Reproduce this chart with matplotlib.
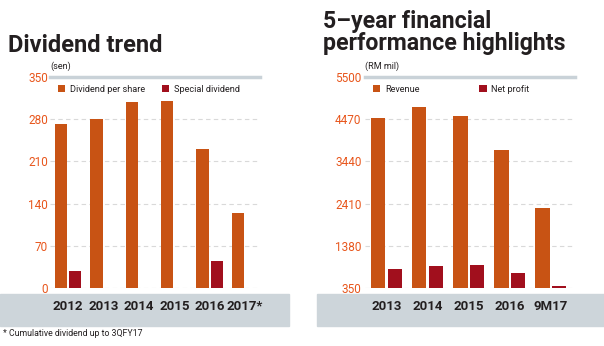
import numpy as np
import matplotlib.pyplot as plt
from matplotlib.patches import Rectangle

plt.rcParams['font.family'] = ['Roboto', 'DejaVu Sans']

# left chart data
div_years = ['2012', '2013', '2014', '2015', '2016', '2017*']
div_per_share = [272, 281, 309, 311, 231, 125]
special_div = [28, 0, 0, 0, 45, 0]
div_ticks = [0, 70, 140, 210, 280, 350]

# right chart data
fin_years = ['2013', '2014', '2015', '2016', '9M17']
revenue = [4490, 4760, 4550, 3730, 2300]
net_profit = [810, 890, 910, 715, 400]
fin_ticks = [350, 1380, 2410, 3440, 4470, 5500]

ORANGE = '#c85314'
RED = '#a10f1d'
TICK = '#e8561c'
GRAY = '#cdd5da'
DARK = '#231f20'

W, H = 604, 346
fig = plt.figure(figsize=(W / 100, H / 100), dpi=100)

def px_axes(x0, x1, ytop, ybot):
    return fig.add_axes([x0 / W, (H - ybot) / H, (x1 - x0) / W, (ybot - ytop) / H])

# grey bands behind the x labels
fig.patches.append(Rectangle((0, (H - 326) / H), 289 / W, 32 / H,
                             transform=fig.transFigure, color=GRAY, zorder=-5))
fig.patches.append(Rectangle((317 / W, (H - 326) / H), (W - 317) / W, 32 / H,
                             transform=fig.transFigure, color=GRAY, zorder=-5))

def style(ax, ticks, cats, unit, lbl_pad):
    ax.set_ylim(ticks[0], ticks[-1])
    ax.set_yticks(ticks)
    ax.set_yticklabels([str(t) for t in ticks], color=TICK, fontsize=8.5)
    ax.tick_params(axis='y', length=0, pad=lbl_pad)
    ax.set_xticks(range(len(cats)))
    ax.set_xticklabels(cats, fontsize=9.5, fontweight='bold', color=DARK)
    ax.tick_params(axis='x', length=0, pad=9)
    for s in ['left', 'right', 'bottom']:
        ax.spines[s].set_visible(False)
    ax.spines['top'].set_color('#c9d2d8')
    ax.spines['top'].set_linewidth(2.5)
    for t in ticks[:-1]:
        ax.axhline(t, color='#d9d9d9', lw=0.8, ls=(0, (4, 3)), zorder=0)
    ax.set_facecolor('none')
    ax.text(0, 1.03, unit, transform=ax.transAxes, fontsize=6.5, color=DARK,
            va='bottom', ha='left')

# left chart
ax1 = px_axes(50, 260, 77, 288)
x = np.arange(len(div_years))
ax1.bar(x - 0.2, div_per_share, width=0.35, color=ORANGE, label='Dividend per share', zorder=2)
ax1.bar(x + 0.2, special_div, width=0.34, color=RED, label='Special dividend', zorder=2)
ax1.set_xlim(-0.51, 5.42)
style(ax1, div_ticks, div_years, '(sen)', 1.5)
ax1.legend(loc='upper left', bbox_to_anchor=(0.01, 0.99), ncol=2, frameon=False,
           fontsize=6.6, handlelength=0.85, handleheight=0.85, handletextpad=0.5,
           columnspacing=1.8, borderaxespad=0.2, labelcolor=DARK)

# right chart
ax2 = px_axes(365, 575, 77, 288)
x = np.arange(len(fin_years))
ax2.bar(x - 0.2, np.array(revenue) - fin_ticks[0], bottom=fin_ticks[0], width=0.35,
        color=ORANGE, label='Revenue', zorder=2)
ax2.bar(x + 0.2, np.array(net_profit) - fin_ticks[0], bottom=fin_ticks[0], width=0.34,
        color=RED, label='Net profit', zorder=2)
ax2.set_xlim(-0.52, 4.59)
style(ax2, fin_ticks, fin_years, '(RM mil)', 2.5)
ax2.legend(loc='upper left', bbox_to_anchor=(0.01, 0.99), ncol=2, frameon=False,
           fontsize=6.6, handlelength=0.85, handleheight=0.85, handletextpad=0.5,
           columnspacing=6.5, borderaxespad=0.2, labelcolor=DARK)

# titles
fig.text(8 / W, (H - 52) / H, 'Dividend trend', fontsize=17, fontweight='bold',
         color=DARK, va='baseline', ha='left')
fig.text(323 / W, (H - 28) / H, '5–year financial', fontsize=16.7,
         fontweight='bold', color=DARK, va='baseline', ha='left')
fig.text(323 / W, (H - 50) / H, 'performance highlights', fontsize=16.7,
         fontweight='bold', color=DARK, va='baseline', ha='left')

fig.text(3 / W, (H - 333) / H, '* Cumulative dividend up to 3QFY17', fontsize=6.3,
         color=DARK, va='center', ha='left')

fig.savefig('out.png', dpi=100)
